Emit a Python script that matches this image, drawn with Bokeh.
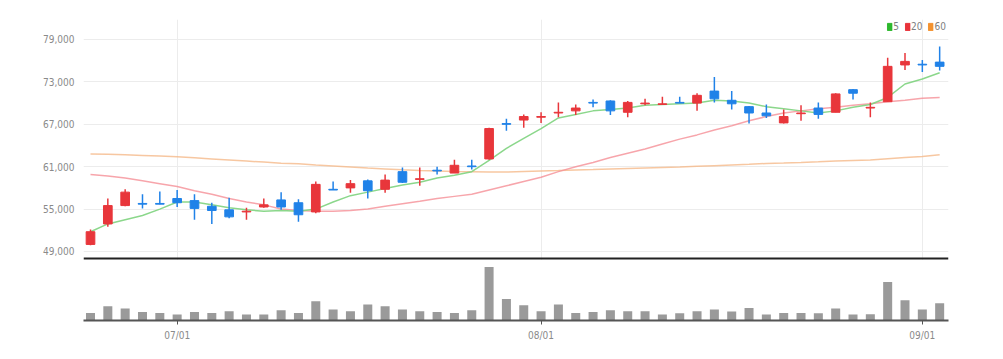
from bokeh.plotting import figure
from bokeh.models import (Range1d, FixedTicker, Span, Legend, LegendItem,
                          ColumnDataSource, NumeralTickFormatter)
from bokeh.layouts import column
from bokeh.embed import file_html
from bokeh.resources import INLINE

# ---------------- data ----------------
opens  = [50000, 52900, 55500, 55800, 55800, 56500, 56200, 55400, 54900, 54600,
          55300, 56300, 55900, 54600, 57800, 58000, 59000, 57800, 60300, 59200,
          60500, 60100, 61100, 62100, 67100, 67600, 68000, 68600, 68900, 70100,
          70300, 68700, 69900, 69800, 70100, 70000, 71700, 70400, 69500, 68600,
          67200, 68500, 69300, 68700, 71900, 69300, 70200, 75400, 75500, 75800]
highs  = [52100, 56500, 57800, 57100, 57500, 57700, 57100, 55900, 56600, 55200,
          56500, 57400, 56400, 58900, 58900, 59100, 59200, 59900, 60900, 60900,
          61000, 62000, 62000, 66500, 67800, 68400, 68700, 70100, 69800, 70500,
          70400, 70300, 70600, 70900, 70900, 71400, 73700, 71700, 69600, 69800,
          69100, 69700, 70100, 71400, 72000, 70100, 76400, 77100, 76100, 78000]
lows   = [49900, 52500, 55400, 55100, 55700, 55300, 53500, 52900, 53700, 53500,
          55200, 54900, 53200, 54400, 57700, 57300, 56500, 57300, 58700, 58300,
          59900, 60100, 60600, 62000, 66100, 66500, 67200, 68000, 68300, 69400,
          68300, 68000, 69700, 69800, 70000, 68900, 70100, 69100, 67100, 67900,
          67100, 67500, 67800, 68700, 70500, 68000, 70200, 74700, 74400, 74600]
closes = [51800, 55500, 57400, 55700, 55700, 55900, 55100, 54800, 53900, 54700,
          55600, 55300, 54200, 58500, 57700, 58600, 57600, 59100, 58800, 59300,
          60400, 61200, 61000, 66400, 67000, 68100, 68100, 68700, 69300, 70000,
          68900, 70100, 70000, 69900, 70000, 71100, 70600, 69900, 68600, 68200,
          68100, 68600, 68400, 71300, 71400, 69400, 75200, 75900, 75400, 75200]
volumes = [760, 1430, 1200, 860, 760, 600, 860, 760, 930, 600,
           600, 1030, 760, 1930, 1100, 930, 1600, 1430, 1100, 930,
           860, 760, 1030, 5360, 2160, 1530, 930, 1600, 760, 860,
           1030, 930, 930, 600, 730, 930, 1100, 900, 1260, 600,
           760, 760, 730, 1200, 600, 630, 3860, 2030, 1100, 1730]
ma5  = [51800, 52900, 53500, 54100, 55000, 56000, 56000, 55600, 55200, 54900,
        54700, 54800, 54700, 55000, 56000, 56900, 57400, 57900, 58400, 58800,
        59400, 59800, 60300, 61900, 63600, 65000, 66400, 67900, 68400, 68900,
        69100, 69300, 69700, 69800, 69900, 70000, 70400, 70300, 70000, 69500,
        69200, 68900, 68600, 68900, 69400, 69800, 70800, 72700, 73400, 74300]
ma20 = [59900, 59700, 59400, 59000, 58600, 58200, 57600, 57100, 56500, 56000,
        55600, 55000, 54800, 54700, 54700, 54800, 55000, 55400, 55750, 56100,
        56500, 56800, 57100, 57700, 58300, 58900, 59500, 60300, 61000, 61600,
        62300, 62900, 63500, 64200, 64900, 65500, 66200, 66800, 67500, 68100,
        68600, 68900, 69200, 69400, 69700, 69900, 70200, 70400, 70700, 70800]
ma60 = [62800, 62750, 62680, 62600, 62500, 62400, 62250, 62100, 61950, 61800,
        61650, 61500, 61400, 61230, 61100, 60950, 60800, 60680, 60560, 60450,
        60390, 60320, 60280, 60250, 60250, 60320, 60390, 60450, 60530, 60600,
        60680, 60750, 60820, 60890, 60960, 61060, 61150, 61250, 61340, 61450,
        61520, 61600, 61700, 61810, 61880, 61950, 62120, 62300, 62450, 62700]
price_ticks = [49000, 55000, 61000, 67000, 73000, 79000]
month_tick_index = [5, 26, 48]
month_tick_labels = ["07/01", "08/01", "09/01"]
legend_labels = ["5", "20", "60"]

# ---------------- styling ----------------
FONT = "DejaVu Sans Condensed, Roboto, sans-serif"
RED, BLUE = "#e8363b", "#2082e8"
idx = list(range(len(opens)))
colors = [RED if c >= o else BLUE for o, c in zip(opens, closes)]
src = ColumnDataSource(dict(
    x=idx, high=highs, low=lows,
    top=[max(o, c) for o, c in zip(opens, closes)],
    bottom=[min(o, c) for o, c in zip(opens, closes)],
    color=colors, vol=volumes))

xr = Range1d(-0.404, 49.51)

p = figure(frame_width=865, frame_height=241, x_range=xr,
           y_range=Range1d(47726, 81830), output_backend="svg",
           toolbar_location=None, min_border_left=83, min_border_right=20,
           min_border_top=19, min_border_bottom=0)
p.outline_line_color = None
p.xaxis.visible = False
p.yaxis.ticker = FixedTicker(ticks=price_ticks)
p.yaxis.formatter = NumeralTickFormatter(format="0,0")
p.yaxis.axis_line_color = None
p.yaxis.major_tick_line_color = None
p.yaxis.minor_tick_line_color = None
p.yaxis.major_label_standoff = 3
p.yaxis.major_label_text_font = FONT
p.yaxis.major_label_text_font_size = "10px"
p.yaxis.major_label_text_color = "#8a8a8a"
p.ygrid.grid_line_color = "#ececec"
p.xgrid.ticker = FixedTicker(ticks=month_tick_index)
p.xgrid.grid_line_color = "#ececec"

p.line(idx, ma60, line_color="#f5b98a", line_width=1.5, line_alpha=0.8)
p.line(idx, ma20, line_color="#f58e96", line_width=1.5, line_alpha=0.8)
p.line(idx, ma5, line_color="#7ed37e", line_width=1.5, line_alpha=0.9)

p.segment(x0="x", y0="low", x1="x", y1="high", line_color="color",
          line_width=1.5, source=src)
p.vbar(x="x", width=0.5, top="top", bottom="bottom", fill_color="color",
       line_color="color", line_width=1, source=src)

p.add_layout(Span(location=48009, dimension="width", line_color="#222222",
                  line_width=2))

leg_colors = ["#2db82d", "#e8333a", "#f3922f"]
nan = float("nan")
items = []
for lab, col in zip(legend_labels, leg_colors):
    r = p.rect(x=[nan], y=[nan], width=1, height=1, fill_color=col,
               line_color=col)
    items.append(LegendItem(label=lab, renderers=[r]))
legend = Legend(items=items, orientation="horizontal", location="top_right",
                glyph_width=6, glyph_height=9, label_width=0, label_height=10,
                label_standoff=1, spacing=5, padding=0, margin=2,
                border_line_color=None, background_fill_alpha=0,
                label_text_font=FONT, label_text_font_size="10px",
                label_text_color="#808080")
p.add_layout(legend)

v = figure(frame_width=865, frame_height=60, x_range=xr,
           y_range=Range1d(0, 6000), output_backend="svg",
           toolbar_location=None, min_border_left=83, min_border_right=20,
           min_border_top=0, min_border_bottom=0)
v.outline_line_color = None
v.yaxis.visible = False
v.grid.visible = False
v.vbar(x="x", width=0.52, top="vol", bottom=0, fill_color="#9a9a9a",
       line_color=None, source=src)
v.xaxis.ticker = FixedTicker(ticks=month_tick_index)
v.xaxis.major_label_overrides = dict(zip(month_tick_index, month_tick_labels))
v.xaxis.axis_line_color = "#555555"
v.xaxis.axis_line_width = 2
v.xaxis.major_tick_in = 0
v.xaxis.major_tick_out = 4
v.xaxis.major_tick_line_color = "#555555"
v.xaxis.minor_tick_line_color = None
v.xaxis.major_label_standoff = 5
v.xaxis.major_label_text_font = FONT
v.xaxis.major_label_text_font_size = "10px"
v.xaxis.major_label_text_color = "#8a8a8a"

layout = column(p, v)
open("out.html", "w").write(file_html(layout, INLINE))
